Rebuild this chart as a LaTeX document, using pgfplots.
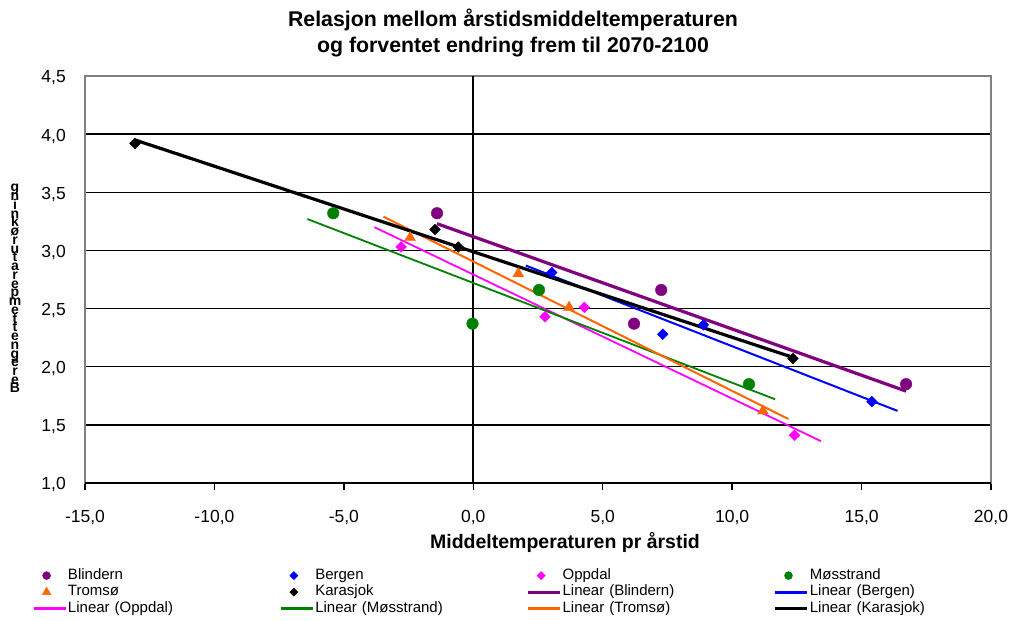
\documentclass[border=0pt]{standalone}
\usepackage{fontspec}
\setmainfont{Liberation Sans}
\usepackage{pgfplots}
\pgfplotsset{compat=1.18}
\definecolor{cBlindern}{HTML}{800080}
\definecolor{cBergen}{HTML}{0000FF}
\definecolor{cOppdal}{HTML}{FF00FF}
\definecolor{cMoss}{HTML}{008000}
\definecolor{cTromso}{HTML}{FF6600}
\definecolor{cKarasjok}{HTML}{000000}
\definecolor{cBorder}{HTML}{808080}
\begin{document}
\begin{tikzpicture}
\useasboundingbox (-85bp,-138bp) rectangle (931bp,483bp);
\begin{axis}[
  at={(0,0)}, anchor=south west,
  scale only axis, width=906bp, height=407bp,
  xmin=-15, xmax=20, ymin=1, ymax=4.5,
  xtick={-15,-10,-5,0,5,10,15,20},
  ytick={1,1.5,2,2.5,3,3.5,4,4.5},
  /pgf/number format/fixed,
  /pgf/number format/fixed zerofill,
  /pgf/number format/precision=1,
  /pgf/number format/use comma,
  /pgf/number format/assume math mode=true,
  ticklabel style={font=\fontsize{17.5bp}{20bp}\selectfont},
  xticklabel style={anchor=north, inner sep=0pt, yshift=-20bp},
  yticklabel style={anchor=east, inner sep=0pt, xshift=-12bp, yshift=-2bp},
  ytick style={draw=none},
  xtick pos=bottom,
  xtick style={black, line width=1.3bp},
  tick align=outside,
  major tick length=7bp,
  ymajorgrids,
  grid style={black, line width=1.5bp},
  axis line style={draw=cBorder, line width=1.3bp},
  legend columns=4,
  legend image code/.code={\draw[mark repeat=2,mark phase=2,#1] plot coordinates {(0bp,0bp) (13bp,0bp) (32bp,0bp)};},
  legend style={at={(-0.0585,-0.208)}, anchor=north west, draw=none, fill=none, inner sep=0pt,
    font=\fontsize{15bp}{18bp}\selectfont, cells={anchor=west},
    nodes={inner xsep=1bp, inner ysep=0bp, text width=210.5bp, align=left, text height=11.5bp, text depth=4bp},
    row sep=1bp},
]
\draw[black, line width=1.8bp] (axis cs:0,1) -- (axis cs:0,4.5);
\draw[black, line width=1.8bp] (axis cs:-15,1) -- (axis cs:20,1);

% legend images
\addlegendimage{only marks, mark=*, mark size=4bp, color=cBlindern}
\addlegendentry{Blindern}
\addlegendimage{only marks, mark=square*, mark options={rotate=45}, mark size=2.9bp, color=cBergen}
\addlegendentry{Bergen}
\addlegendimage{only marks, mark=square*, mark options={rotate=45}, mark size=2.9bp, color=cOppdal}
\addlegendentry{Oppdal}
\addlegendimage{only marks, mark=*, mark size=4bp, color=cMoss}
\addlegendentry{Møsstrand}
\addlegendimage{only marks, mark=triangle*, mark size=5bp, color=cTromso}
\addlegendentry{Tromsø}
\addlegendimage{only marks, mark=square*, mark options={rotate=45}, mark size=2.9bp, color=cKarasjok}
\addlegendentry{Karasjok}
\addlegendimage{line width=2.8bp, color=cBlindern}
\addlegendentry{Linear (Blindern)}
\addlegendimage{line width=2.8bp, color=cBergen}
\addlegendentry{Linear (Bergen)}
\addlegendimage{line width=2.8bp, color=cOppdal}
\addlegendentry{Linear (Oppdal)}
\addlegendimage{line width=2.8bp, color=cMoss}
\addlegendentry{Linear (Møsstrand)}
\addlegendimage{line width=2.8bp, color=cTromso}
\addlegendentry{Linear (Tromsø)}
\addlegendimage{line width=2.8bp, color=cKarasjok}
\addlegendentry{Linear (Karasjok)}

% markers
\addplot[forget plot, only marks, mark=*, mark size=5.8bp, color=cBlindern]
  coordinates {(-1.40,3.32) (6.21,2.37) (7.26,2.66) (16.72,1.85)};
\addplot[forget plot, only marks, mark=square*, mark options={rotate=45}, mark size=3.8bp, color=cBergen]
  coordinates {(3.03,2.81) (7.32,2.28) (8.89,2.36) (15.40,1.70)};
\addplot[forget plot, only marks, mark=square*, mark options={rotate=45}, mark size=3.8bp, color=cOppdal]
  coordinates {(-2.79,3.03) (2.77,2.43) (4.29,2.51) (12.41,1.41)};
\addplot[forget plot, only marks, mark=*, mark size=5.8bp, color=cMoss]
  coordinates {(-5.41,3.32) (-0.03,2.37) (2.54,2.66) (10.65,1.85)};
\addplot[forget plot, only marks, mark=triangle*, mark size=6.2bp, color=cTromso]
  coordinates {(-2.44,3.11) (1.74,2.80) (3.70,2.51) (11.19,1.62)};
\addplot[forget plot, only marks, mark=square*, mark options={rotate=45}, mark size=3.8bp, color=cKarasjok]
  coordinates {(-13.07,3.92) (-1.48,3.18) (-0.58,3.03) (12.35,2.07)};

% trend lines
\addplot[forget plot, no marks, line width=3.2bp, color=cBlindern]
  coordinates {(-1.40,3.23) (16.72,1.79)};
\addplot[forget plot, no marks, line width=2bp, color=cBergen]
  coordinates {(2.03,2.87) (16.39,1.62)};
\addplot[forget plot, no marks, line width=1.8bp, color=cOppdal]
  coordinates {(-3.82,3.20) (13.43,1.36)};
\addplot[forget plot, no marks, line width=1.8bp, color=cMoss]
  coordinates {(-6.41,3.27) (11.66,1.72)};
\addplot[forget plot, no marks, line width=2bp, color=cTromso]
  coordinates {(-3.47,3.29) (12.18,1.55)};
\addplot[forget plot, no marks, line width=3.2bp, color=cKarasjok]
  coordinates {(-13.07,3.95) (12.35,2.08)};
\end{axis}
\node[anchor=base, font=\bfseries\fontsize{21.3bp}{25bp}\selectfont] at (428bp,456.8bp) {Relasjon mellom årstidsmiddeltemperaturen};
\node[anchor=base, font=\bfseries\fontsize{21.3bp}{25bp}\selectfont] at (428bp,430.8bp) {og forventet endring frem til 2070-2100};
\node[anchor=base, font=\bfseries\fontsize{19.5bp}{23bp}\selectfont] at (480bp,-65bp) {Middeltemperaturen pr årstid};
\foreach \ch [count=\i] in {B,e,r,e,g,n,e,t,t,e,m,p,e,r,a,t,u,r,ø,k,n,i,n,g}
  \node[anchor=base, inner sep=0pt, font=\bfseries\fontsize{14bp}{16bp}\selectfont] at (-70bp,{90bp+(\i-1)*8.74bp}) {\ch};
\end{tikzpicture}
\end{document}
